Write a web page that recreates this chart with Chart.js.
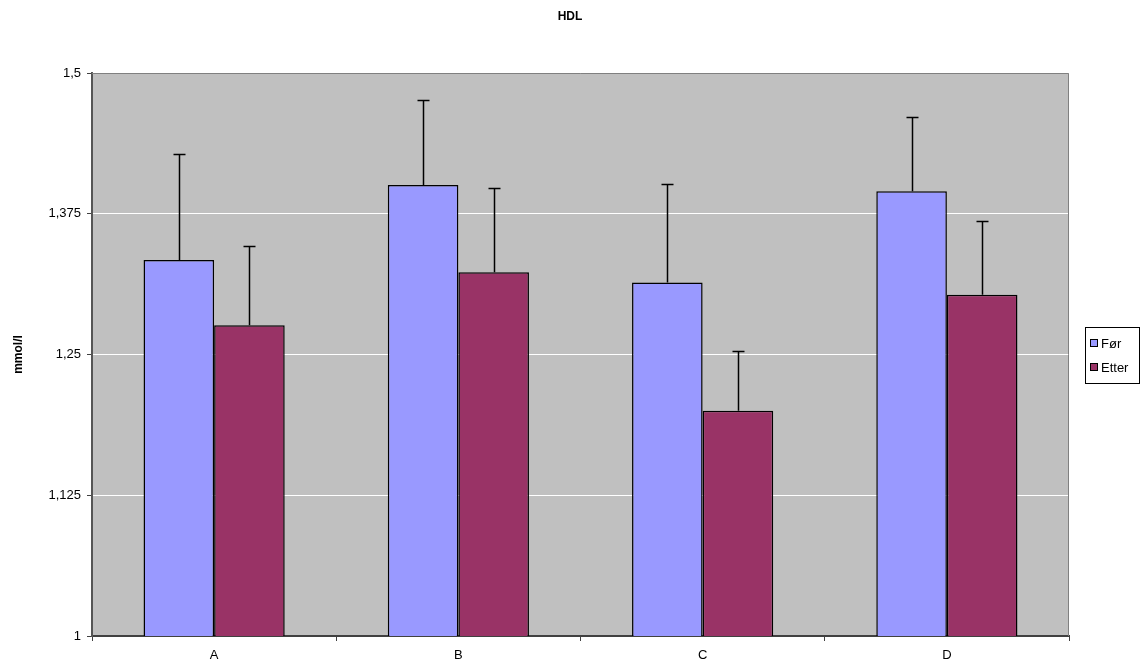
<!DOCTYPE html>
<html>
<head>
<meta charset="utf-8">
<script src="https://cdn.jsdelivr.net/npm/chart.js@4"></script>
<style>
  html, body { margin: 0; padding: 0; background: #fff; }
  #wrap { width: 1147px; height: 668px; position: relative; }
</style>
</head>
<body>
<div id="wrap"><canvas id="chart" width="1147" height="668"></canvas></div>
<script>
const categories = ['A', 'B', 'C', 'D'];
const seriesNames = ['Før', 'Etter'];
const forValues = [1.334, 1.4005, 1.314, 1.395];
const etterValues = [1.276, 1.323, 1.200, 1.303];
const forErrTop = [1.428, 1.476, 1.401, 1.461];
const etterErrTop = [1.346, 1.398, 1.253, 1.369];
const yTicks = [1, 1.125, 1.25, 1.375, 1.5];

const colors = ['#9999FF', '#993366'];
const errTops = [forErrTop, etterErrTop];
const FONT = 'Arial, "Liberation Sans", sans-serif';

// upper error bars, drawn through the y scale
const errorBars = {
  id: 'errorBars',
  afterDatasetsDraw(chart) {
    const ctx = chart.ctx;
    const y = chart.scales.y;
    ctx.save();
    ctx.strokeStyle = '#000';
    ctx.lineWidth = 1.5;
    chart.data.datasets.forEach((ds, di) => {
      chart.getDatasetMeta(di).data.forEach((bar, i) => {
        const x = Math.round(bar.x) + 0.5;
        const yTop = Math.round(y.getPixelForValue(errTops[di][i])) + 0.5;
        ctx.beginPath();
        ctx.moveTo(x, bar.y);
        ctx.lineTo(x, yTop);
        ctx.moveTo(x - 6, yTop);
        ctx.lineTo(x + 6, yTop);
        ctx.stroke();
      });
    });
    ctx.restore();
  }
};

// plot background, border, title and boxed legend
const frame = {
  id: 'frame',
  beforeDraw(chart) {
    const { ctx, chartArea: a } = chart;
    ctx.save();
    ctx.fillStyle = '#C0C0C0';
    ctx.fillRect(a.left, a.top, a.right - a.left, a.bottom - a.top);
    ctx.restore();
  },
  afterDraw(chart) {
    const { ctx, chartArea: a } = chart;
    ctx.save();
    ctx.strokeStyle = '#808080';
    ctx.lineWidth = 1;
    ctx.beginPath();
    ctx.moveTo(a.left, a.top + 0.5);
    ctx.lineTo(a.right - 0.5, a.top + 0.5);
    ctx.lineTo(a.right - 0.5, a.bottom);
    ctx.stroke();

    ctx.fillStyle = '#000';
    ctx.font = 'bold 12px ' + FONT;
    ctx.textAlign = 'center';
    ctx.textBaseline = 'middle';
    ctx.fillText('HDL', 570, 17);

    // legend
    const lx = 1085, ly = 327, lw = 54, lh = 56;
    ctx.strokeStyle = '#000';
    ctx.strokeRect(lx + 0.5, ly + 0.5, lw, lh);
    ctx.font = '13px ' + FONT;
    ctx.textAlign = 'left';
    chart.data.datasets.forEach((ds, i) => {
      const cy = ly + 16 + i * 24;
      ctx.fillStyle = ds.backgroundColor;
      ctx.fillRect(lx + 5.5, cy - 3.5, 7, 7);
      ctx.strokeRect(lx + 5.5, cy - 3.5, 7, 7);
      ctx.fillStyle = '#000';
      ctx.fillText(ds.label, lx + 16, cy + 1);
    });
    ctx.restore();
  }
};

new Chart(document.getElementById('chart'), {
  type: 'bar',
  data: {
    labels: categories,
    datasets: [
      { label: seriesNames[0], data: forValues, backgroundColor: colors[0], borderColor: '#000', borderWidth: 1.5, borderSkipped: false },
      { label: seriesNames[1], data: etterValues, backgroundColor: colors[1], borderColor: '#000', borderWidth: 1.5, borderSkipped: false }
    ]
  },
  options: {
    responsive: false,
    animation: false,
    layout: { padding: { top: 73, right: 78, bottom: 0, left: 0 } },
    plugins: { legend: { display: false }, title: { display: false }, tooltip: { enabled: false } },
    datasets: { bar: { categoryPercentage: 0.578, barPercentage: 1 } },
    scales: {
      x: {
        grid: { display: true, drawOnChartArea: false, offset: true, tickLength: 5, color: '#404040' },
        border: { color: '#404040', width: 2 },
        ticks: { color: '#000', font: { size: 13, family: FONT }, padding: 7 },
        afterFit(s) { s.height = 32; }
      },
      y: {
        min: 1, max: 1.5,
        afterBuildTicks(s) { s.ticks = yTicks.map(v => ({ value: v })); },
        grid: {
          tickLength: 5,
          color: ctx => (ctx.tick && (ctx.tick.value === 1 || ctx.tick.value === 1.5)) ? 'rgba(0,0,0,0)' : '#FFFFFF',
          tickColor: '#404040'
        },
        border: { color: '#555', width: 2 },
        ticks: {
          color: '#000',
          font: { size: 13, family: FONT },
          padding: 6,
          callback: v => String(v).replace('.', ',')
        },
        title: { display: true, text: 'mmol/l', color: '#000', font: { size: 12, weight: 'bold', family: FONT }, padding: { top: 11, bottom: 0 } },
        afterFit(s) { s.width = 92; }
      }
    }
  },
  plugins: [frame, errorBars]
});
</script>
</body>
</html>
